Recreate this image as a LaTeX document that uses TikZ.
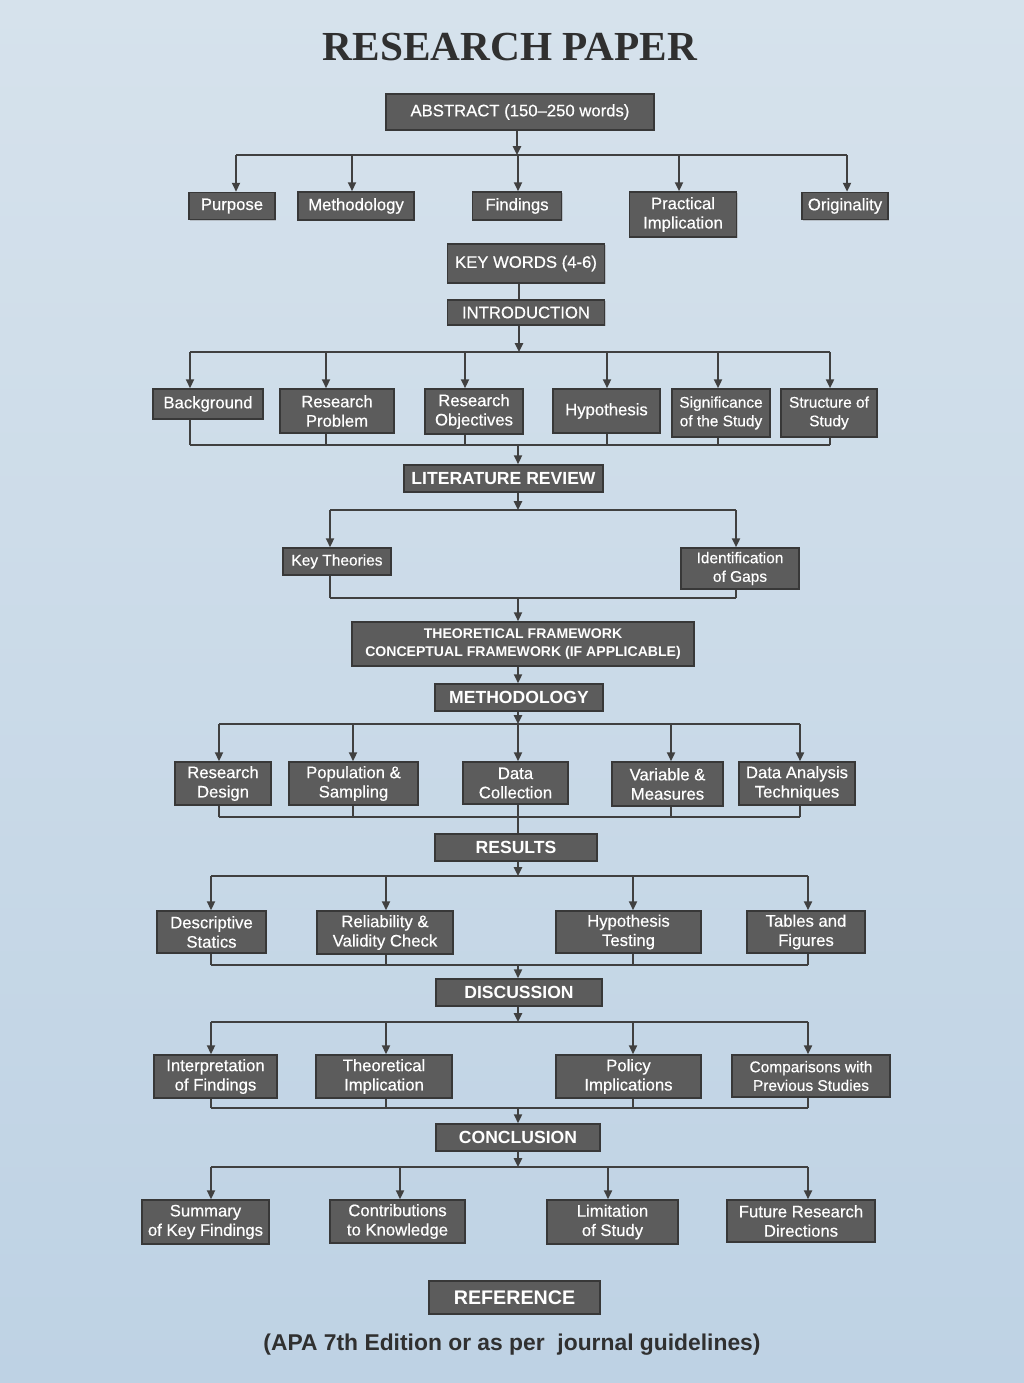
\documentclass[tikz,border=0pt]{standalone}
\usepackage{fontspec}
\setmainfont{Liberation Sans}
\newfontfamily\boxfont[FakeBold=0.45]{Liberation Sans}
\newfontfamily\titlefont{Liberation Serif}
\usetikzlibrary{arrows.meta,shadows}

\definecolor{paper}{RGB}{190,210,228}
\definecolor{paperlight}{RGB}{214,226,236}
\definecolor{boxfill}{RGB}{92,92,92}
\definecolor{boxline}{RGB}{56,56,56}
\definecolor{linkcol}{RGB}{64,64,64}
\definecolor{inkcol}{RGB}{48,48,48}

\begin{document}
\begin{tikzpicture}[x=0.02cm,y=-0.02cm,
  every node/.style={font=\boxfont\fontsize{9.5}{11}\selectfont},
  box/.style={draw=boxline,fill=boxfill,text=white,line width=0.9pt,
              align=center,inner sep=0pt,
              drop shadow={shadow xshift=0.8pt,shadow yshift=-0.8pt,opacity=0.35}},
  head/.style={box,font=\fontsize{10}{12}\selectfont\bfseries},
  small/.style={font=\boxfont\fontsize{8.8}{10.6}\selectfont},
  wh/.style 2 args={minimum width=#1*0.02cm,minimum height=#2*0.02cm},
  link/.style={draw=linkcol,line width=1.15pt},
  arr/.style={link,-{Triangle[length=5pt,width=4.5pt]}}]

% paper
\shade[top color=paperlight,bottom color=paper] (0,0) rectangle (1024,1383);
\useasboundingbox (0,0) rectangle (1024,1383);

\node[font=\titlefont\fontsize{23.5}{28}\selectfont\bfseries,text=inkcol]
  (title) at (510,47) {RESEARCH PAPER};

% abstract
\node[box,wh={268}{36}] (abs) at (520,112) {ABSTRACT (150–250 words)};
\node[box,wh={86}{27}]  (purp) at (232,206) {Purpose};
\node[box,wh={116}{28}] (meth) at (356,206) {Methodology};
\node[box,wh={89}{28}]  (find) at (517,206) {Findings};
\node[box,wh={107}{45}] (prac) at (683,214.5) {Practical\\Implication};
\node[box,wh={86}{27}]  (orig) at (845,206) {Originality};
\coordinate (busA) at (517,155);
\draw[arr] (abs.south -| busA) -- (busA);
\foreach \n/\dx in {purp/4,meth/-4,find/1,prac/-4,orig/2} {
  \path (\n.north) ++(\dx,0) coordinate (top\n);
  \draw[arr] (top\n |- busA) -- (top\n);
}
\draw[link] (toppurp |- busA) -- (toporig |- busA);

% key words, introduction
\node[box,wh={157}{39}] (kw) at (526,263.5) {KEY WORDS (4-6)};
\node[box,wh={157}{25}] (intro) at (526,312.5) {INTRODUCTION};
\coordinate (busB) at (519,352);
\draw[link] (kw.south -| busB) -- (intro.north -| busB);
\draw[arr] (intro.south -| busB) -- (busB);
\node[box,wh={110}{30}] (bg)  at (208,404) {Background};
\node[box,wh={114}{44}] (rp)  at (337,411) {Research\\Problem};
\node[box,wh={98}{45}]  (ro)  at (474,411.5) {Research\\Objectives};
\node[box,wh={107}{44}] (hyp) at (606.5,411) {Hypothesis};
\node[box,wh={98}{48},small]  (sig) at (721,413) {Significance\\of the Study};
\node[box,wh={96}{48},small]  (sos) at (829,413) {Structure of\\Study};
\coordinate (busC) at (518,445);
\foreach \n/\dx in {bg/-18,rp/-11,ro/-9,hyp/0.5,sig/-3,sos/1} {
  \path (\n.north) ++(\dx,0) coordinate (top\n);
  \draw[arr] (top\n |- busB) -- (top\n);
  \draw[link] (top\n |- \n.south) -- (top\n |- busC);
}
\draw[link] (topbg |- busB) -- (topsos |- busB);
\draw[link] (topbg |- busC) -- (topsos |- busC);

% literature review
\node[head,wh={199}{27}] (lit) at (503.5,478.5) {LITERATURE REVIEW};
\draw[arr] (busC) -- (lit.north -| busC);
\coordinate (busD) at (518,510);
\coordinate (busE) at (518,598);
\draw[arr] (lit.south -| busD) -- (busD);
\node[box,wh={108}{27},small] (kt)  at (337,561.5) {Key Theories};
\node[box,wh={118}{41},small] (gap) at (740,568.5) {Identification\\of Gaps};
\foreach \n/\dx in {kt/-7,gap/-4} {
  \path (\n.north) ++(\dx,0) coordinate (top\n);
  \draw[arr] (top\n |- busD) -- (top\n);
  \draw[link] (top\n |- \n.south) -- (top\n |- busE);
}
\draw[link] (topkt |- busD) -- (topgap |- busD);
\draw[link] (topkt |- busE) -- (topgap |- busE);

% frameworks, methodology
\node[box,wh={342}{44},font=\fontsize{8}{10}\selectfont\bfseries] (tf)
  at (523,644) {THEORETICAL FRAMEWORK\\CONCEPTUAL FRAMEWORK (IF APPLICABLE)};
\draw[arr] (busE) -- (tf.north -| busE);
\node[head,wh={168}{27}] (mth) at (519,697.5) {METHODOLOGY};
\draw[arr] (tf.south -| busE) -- (mth.north -| busE);
\coordinate (busF) at (518,724);
\coordinate (busG) at (518,817);
\draw[arr] (mth.south -| busF) -- (busF);
\node[box,wh={96}{43}]  (rd) at (223,783.5) {Research\\Design};
\node[box,wh={129}{43}] (ps) at (353.5,783.5) {Population \&\\Sampling};
\node[box,wh={105}{42}] (dc) at (515.5,783) {Data\\Collection};
\node[box,wh={111}{44}] (vm) at (667.5,784) {Variable \&\\Measures};
\node[box,wh={116}{43}] (da) at (797,783.5) {Data Analysis\\Techniques};
\foreach \n/\dx in {rd/-4,ps/-0.5,dc/2.5,vm/3.5,da/3} {
  \path (\n.north) ++(\dx,0) coordinate (top\n);
  \draw[arr] (top\n |- busF) -- (top\n);
}
\foreach \n in {rd,ps,vm,da} \draw[link] (top\n |- \n.south) -- (top\n |- busG);
\draw[link] (toprd |- busF) -- (topda |- busF);
\draw[link] (toprd |- busG) -- (topda |- busG);

% results
\node[head,wh={162}{27}] (res) at (516,847.5) {RESULTS};
\draw[link] (topdc |- dc.south) -- (res.north -| topdc);
\coordinate (busH) at (518,876);
\coordinate (busI) at (518,965);
\draw[arr] (res.south -| busH) -- (busH);
\node[box,wh={109}{42}] (ds) at (211.5,932) {Descriptive\\Statics};
\node[box,wh={136}{43}] (rv) at (385,932.5) {Reliability \&\\Validity Check};
\node[box,wh={145}{42}] (ht) at (628.5,932) {Hypothesis\\Testing};
\node[box,wh={118}{42}] (tb) at (806,932) {Tables and\\Figures};
\foreach \n/\dx in {ds/-0.5,rv/1,ht/4.5,tb/2} {
  \path (\n.north) ++(\dx,0) coordinate (top\n);
  \draw[arr] (top\n |- busH) -- (top\n);
  \draw[link] (top\n |- \n.south) -- (top\n |- busI);
}
\draw[link] (topds |- busH) -- (toptb |- busH);
\draw[link] (topds |- busI) -- (toptb |- busI);

% discussion
\node[head,wh={166}{27}] (dis) at (519,992.5) {DISCUSSION};
\draw[arr] (busI) -- (dis.north -| busI);
\coordinate (busJ) at (518,1022);
\coordinate (busK) at (518,1108);
\draw[arr] (dis.south -| busJ) -- (busJ);
\node[box,wh={123}{43}] (inf) at (215.5,1076.5) {Interpretation\\of Findings};
\node[box,wh={136}{43}] (ti)  at (384,1076.5) {Theoretical\\Implication};
\node[box,wh={145}{43}] (pi)  at (628.5,1076.5) {Policy\\Implications};
\node[box,wh={158}{42},small] (cps) at (811,1076) {Comparisons with\\Previous Studies};
\foreach \n/\dx in {inf/-4.5,ti/2,pi/4.5,cps/-3} {
  \path (\n.north) ++(\dx,0) coordinate (top\n);
  \draw[arr] (top\n |- busJ) -- (top\n);
  \draw[link] (top\n |- \n.south) -- (top\n |- busK);
}
\draw[link] (topinf |- busJ) -- (topcps |- busJ);
\draw[link] (topinf |- busK) -- (topcps |- busK);

% conclusion
\node[head,wh={164}{27}] (con) at (518,1137.5) {CONCLUSION};
\draw[arr] (busK) -- (con.north -| busK);
\coordinate (busL) at (518,1167);
\draw[arr] (con.south -| busL) -- (busL);
\node[box,wh={127}{44}] (skf) at (205.5,1222) {Summary\\of Key Findings};
\node[box,wh={135}{43}] (ck)  at (397.5,1221.5) {Contributions\\to Knowledge};
\node[box,wh={131}{44}] (ls)  at (612.5,1222) {Limitation\\of Study};
\node[box,wh={148}{42}] (frd) at (801,1221) {Future Research\\Directions};
\foreach \n/\dx in {skf/5.5,ck/2.5,ls/-4.5,frd/7} {
  \path (\n.north) ++(\dx,0) coordinate (top\n);
  \draw[arr] (top\n |- busL) -- (top\n);
}
\draw[link] (topskf |- busL) -- (topfrd |- busL);

% reference
\node[head,wh={171}{33},font=\fontsize{11.2}{13}\selectfont\bfseries] (ref)
  at (514.5,1297.5) {REFERENCE};
\node[font=\fontsize{13}{15}\selectfont\bfseries,text=inkcol] (apa)
  at (512,1345) {(APA 7th Edition or as per\ \ journal guidelines)};
\end{tikzpicture}
\end{document}
